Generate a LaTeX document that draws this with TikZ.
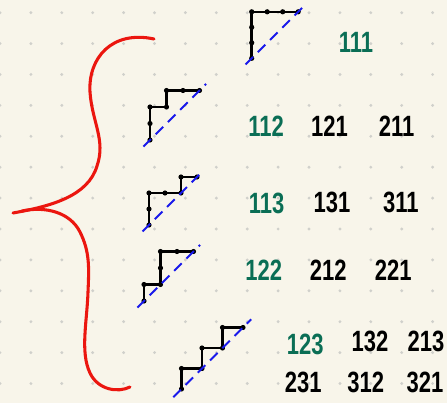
\documentclass[tikz,border=0pt]{standalone}
\usepackage{fontspec}
\usepackage{xcolor}
\usepackage{tikz}
\usetikzlibrary{arrows.meta,positioning}
\newfontfamily\handfont{Liberation Sans}[FakeStretch=0.75]

\definecolor{paper}{RGB}{248,245,234}
\definecolor{griddot}{RGB}{208,208,203}
\definecolor{inkgreen}{RGB}{10,110,85}
\definecolor{bracered}{RGB}{235,22,15}
\definecolor{diagblue}{RGB}{25,25,235}

% lattice path: start x, start y, step, moves (U = up, R = right)
\newcommand{\stairpath}[4]{%
  \coordinate (s) at (#1,#2);
  \fill (s) circle (2.6);
  \foreach \m in {#4} {
    \if\m U\draw[stair] (s) -- ++(0,-#3) coordinate (s);
    \else\draw[stair] (s) -- ++(#3,0) coordinate (s);\fi
    \fill (s) circle (2.6);
  }
  \draw[diag] (#1,#2) ++(-0.4*#3,0.4*#3) -- ++(3.8*#3,-3.8*#3);
}

\begin{document}
\begin{tikzpicture}[
      x=0.75pt, y=-0.75pt,
      word/.style={inner sep=1pt, font=\handfont\bfseries\fontsize{22}{22}\selectfont},
      first/.style={word, text=inkgreen},
      stair/.style={line width=1.9pt, line cap=round, line join=round},
      diag/.style={diagblue, line width=1.5pt, dash pattern=on 8pt off 5pt},
      brace/.style={bracered, line width=2.3pt, line cap=round}
    ]
    \fill[paper] (0,0) rectangle (447,403);
    \useasboundingbox (0,0) rectangle (447,403);
    \foreach \i in {0,...,14}
      \foreach \j in {0,...,12}
        \fill[griddot] (30.9*\i,12.7+30.9*\j) circle (1.6);

    % the brace
    \draw[brace] (154,39) .. controls (112,30) and (88,58) .. (90,92)
      .. controls (92,122) and (106,140) .. (97,166)
      .. controls (88,196) and (52,206) .. (13,213);
    \draw[brace] (22,211) .. controls (45,206) and (70,212) .. (80,232)
      .. controls (90,252) and (89,268) .. (88,292)
      .. controls (87,322) and (80,352) .. (90,373)
      .. controls (98,390) and (118,393) .. (130,387);

    % paths
    \stairpath{251.7}{58.3}{15.5}{U,U,U,R,R,R}
    \stairpath{150}{140}{16.5}{U,U,R,U,R,R}
    \stairpath{149}{225}{16}{U,U,R,R,U,R}
    \stairpath{144}{301}{16.5}{U,R,U,U,R,R}
    \stairpath{181.5}{389}{20.5}{U,R,U,R,U,R}

    % words
    \node[first] (n111) at (356,42.5) {111};

    \node[first] (n112) at (266,126) {112};
    \node[word] (n121) at (329.5,126) {121};
    \node[word] (n211) at (396.7,126) {211};

    \node[first] (n113) at (266.7,203.7) {113};
    \node[word] (n131) at (332,202) {131};
    \node[word] (n311) at (400.8,202) {311};

    \node[first] (n122) at (263.8,270) {122};
    \node[word] (n212) at (328.3,270) {212};
    \node[word] (n221) at (393.3,270) {221};

    \node[first] (n123) at (305.3,344) {123};
    \node[word] (n132) at (370,341) {132};
    \node[word] (n213) at (426,341) {213};
    \node[word] (n231) at (303.3,382.5) {231};
    \node[word] (n312) at (365.8,382.5) {312};
    \node[word] (n321) at (425,382) {321};
  \end{tikzpicture}
\end{document}
